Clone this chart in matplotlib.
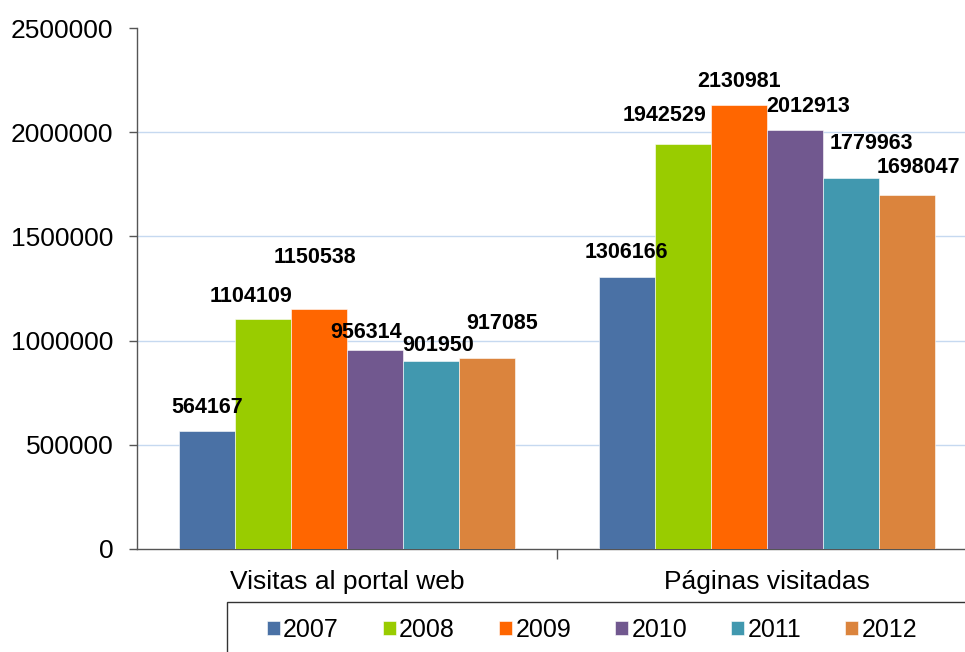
import numpy as np
import matplotlib
matplotlib.use('Agg')
import matplotlib.pyplot as plt
from matplotlib.patches import Rectangle

plt.rcParams['font.family'] = ['Liberation Sans', 'DejaVu Sans']

categories = ['Visitas al portal web', 'Páginas visitadas']
years = ['2007', '2008', '2009', '2010', '2011', '2012']
visitas = [564167, 1104109, 1150538, 956314, 901950, 917085]
paginas = [1306166, 1942529, 2130981, 2012913, 1779963, 1698047]
yticks = [0, 500000, 1000000, 1500000, 2000000, 2500000]

colors = ['#4a71a5', '#99cc00', '#ff6600', '#71588f', '#4198af', '#db843d']

# label nudges (pixels) relative to bar centre / bar top, per group and year
label_dx = [[0, -12, -4, -9, 7, 15], [-1, -18, 0, 13, 20, 11]]
label_dy = [[24, 22, 52, 17, 16, 34], [24, 29, 23, 23, 35, 28]]

fig = plt.figure(figsize=(9.65, 6.52), dpi=100)
ax = fig.add_axes([137 / 965, 103 / 652, 840 / 965, 521 / 652])

values = np.array([visitas, paginas])
n = len(years)
width = 0.8 / n
x = np.arange(len(categories))

for i, year in enumerate(years):
    xs = x - 0.4 + width * (i + 0.5)
    bars = ax.bar(xs, values[:, i], width, color=colors[i], label=year,
                  edgecolor='white', linewidth=0.4, zorder=3)
    for g, b in enumerate(bars):
        ax.annotate(str(values[g, i]),
                    (b.get_x() + b.get_width() / 2, b.get_height()),
                    xytext=(label_dx[g][i], label_dy[g][i]),
                    textcoords='offset pixels', ha='center', va='center',
                    fontsize=15.5, fontweight='bold', zorder=5)

ax.set_xlim(-0.5, 1.5)
ax.set_ylim(0, 2500000)

# gridlines between the baseline and the top of the axis
ax.hlines(yticks[1:-1], -0.5, 1.5, color='#c6d9f0', linewidth=1, zorder=1)

ax.set_yticks(yticks)
ax.set_yticklabels([str(t) for t in yticks], fontsize=19)
ax.tick_params(axis='y', direction='out', length=6, width=1, color='#555555', pad=11)

ax.set_xticks([0.5])
ax.set_xticklabels([''])
ax.set_xticks(x, minor=True)
ax.set_xticklabels(categories, minor=True, fontsize=19)
ax.tick_params(axis='x', which='major', direction='out', length=7, width=1, color='#555555')
ax.tick_params(axis='x', which='minor', length=0, pad=15)

for side in ['top', 'right']:
    ax.spines[side].set_visible(False)
for side in ['left', 'bottom']:
    ax.spines[side].set_color('#555555')
    ax.spines[side].set_linewidth(1)

# legend box runs past the right and bottom edges of the canvas
fig.patches.append(Rectangle((227 / 965, -0.05), 0.8, 0.05 + 50 / 652,
                             transform=fig.transFigure, fill=False,
                             edgecolor='#333333', linewidth=1))

leg = fig.legend(loc='center left', bbox_to_anchor=(267 / 965, 1 - 630 / 652, 650 / 965, 0),
                 mode='expand', ncol=6, fontsize=18, frameon=False,
                 handlelength=0.5, handleheight=0.5, handletextpad=0.15,
                 borderpad=0, borderaxespad=0)

fig.savefig('out.png', dpi=100)
